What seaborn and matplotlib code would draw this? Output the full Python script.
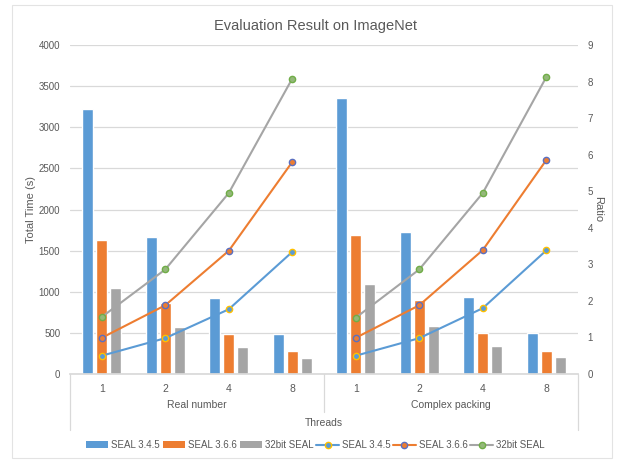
import pandas as pd
import matplotlib.pyplot as plt
import seaborn as sns
from matplotlib.lines import Line2D
from matplotlib.patches import Patch, Rectangle

# --- data ---
groups = ['Real number', 'Complex packing']
threads = ['1', '2', '4', '8']
versions = ['SEAL 3.4.5', 'SEAL 3.6.6', '32bit SEAL']

time_real_345 = [3220, 1670, 920, 486]
time_real_366 = [1625, 863, 482, 280]
time_real_32 = [1045, 567, 328, 199]
time_cplx_345 = [3352, 1730, 936, 498]
time_cplx_366 = [1694, 896, 495, 284]
time_cplx_32 = [1098, 587, 337, 207]

ratio_real_345 = [0.50, 0.98, 1.77, 3.34]
ratio_real_366 = [0.99, 1.88, 3.37, 5.80]
ratio_real_32 = [1.56, 2.86, 4.95, 8.08]
ratio_cplx_345 = [0.50, 0.98, 1.80, 3.38]
ratio_cplx_366 = [0.99, 1.88, 3.39, 5.85]
ratio_cplx_32 = [1.54, 2.86, 4.95, 8.12]

times = {('Real number', 'SEAL 3.4.5'): time_real_345, ('Real number', 'SEAL 3.6.6'): time_real_366,
         ('Real number', '32bit SEAL'): time_real_32, ('Complex packing', 'SEAL 3.4.5'): time_cplx_345,
         ('Complex packing', 'SEAL 3.6.6'): time_cplx_366, ('Complex packing', '32bit SEAL'): time_cplx_32}
ratios = {('Real number', 'SEAL 3.4.5'): ratio_real_345, ('Real number', 'SEAL 3.6.6'): ratio_real_366,
          ('Real number', '32bit SEAL'): ratio_real_32, ('Complex packing', 'SEAL 3.4.5'): ratio_cplx_345,
          ('Complex packing', 'SEAL 3.6.6'): ratio_cplx_366, ('Complex packing', '32bit SEAL'): ratio_cplx_32}

rows = []
for gi, g in enumerate(groups):
    for ti, t in enumerate(threads):
        for v in versions:
            rows.append({'pos': gi * len(threads) + ti, 'group': g, 'threads': t, 'version': v,
                         'time': times[(g, v)][ti], 'ratio': ratios[(g, v)][ti]})
df = pd.DataFrame(rows)

# --- style ---
sns.set_theme(style='white')
plt.rcParams['font.family'] = ['Liberation Sans', 'DejaVu Sans']
TXT = '#595959'
GRID = '#D9D9D9'
bar_colors = {'SEAL 3.4.5': '#5B9BD5', 'SEAL 3.6.6': '#ED7D31', '32bit SEAL': '#A5A5A5'}
line_colors = {'SEAL 3.4.5': '#5B9BD5', 'SEAL 3.6.6': '#ED7D31', '32bit SEAL': '#A5A5A5'}
mk_face = {'SEAL 3.4.5': '#5B9BD5', 'SEAL 3.6.6': '#ED7D31', '32bit SEAL': '#94B87A'}
mk_edge = {'SEAL 3.4.5': '#FFC000', 'SEAL 3.6.6': '#5B6FC0', '32bit SEAL': '#70AD47'}

fig = plt.figure(figsize=(6.25, 4.62), dpi=100)
fig.patches.append(Rectangle((12 / 625, 1 - 458 / 462), 600 / 625, 453 / 462, transform=fig.transFigure,
                             fill=False, edgecolor='#E3E3E3', linewidth=0.8))
ax = fig.add_axes([70 / 625, 1 - 374 / 462, 508 / 625, 329 / 462])

sns.barplot(data=df, x='pos', y='time', hue='version', hue_order=versions, palette=bar_colors,
            width=0.66, gap=0.21, saturation=1, ax=ax, legend=False)
ax.set_axisbelow(True)
ax.set_ylim(0, 4000)
ax.set_yticks(range(0, 4001, 500))
ax.yaxis.grid(True, color=GRID, linewidth=0.9)
ax.set_xlim(-0.5, 7.5)
ax.set_xticks(range(8))
ax.set_xticklabels(threads * 2)
for s in ['top', 'left', 'right']:
    ax.spines[s].set_visible(False)
ax.spines['bottom'].set_color(GRID)
ax.tick_params(axis='both', length=0, labelsize=7, labelcolor=TXT)
ax.tick_params(axis='x', pad=7, labelsize=7.5)
ax.tick_params(axis='y', pad=7)
ax.set_ylabel('Total Time (s)', fontsize=8, color=TXT, labelpad=2)
ax.set_xlabel('')

ax2 = ax.twinx()
for g in groups:
    for v in versions:
        sub = df[(df['group'] == g) & (df['version'] == v)]
        sns.lineplot(data=sub, x='pos', y='ratio', color=line_colors[v], linewidth=1.5, marker='o',
                     markersize=4.5, markerfacecolor=mk_face[v], markeredgecolor=mk_edge[v],
                     markeredgewidth=1, ax=ax2, legend=False)
ax2.set_ylim(0, 9)
ax2.set_yticks(range(10))
ax2.set_xlim(-0.5, 7.5)
for s in ['top', 'left', 'right', 'bottom']:
    ax2.spines[s].set_visible(False)
ax2.tick_params(axis='y', length=0, labelsize=7, labelcolor=TXT, pad=7)
ax2.set_ylabel('Ratio', fontsize=8, color=TXT, rotation=270, labelpad=7)
ax2.set_xlabel('')

# multi-level category axis
tr = ax.get_xaxis_transform()
for x, y1 in [(-0.5, -0.170), (3.5, -0.1155), (7.5, -0.170)]:
    ax.plot([x, x], [0, y1], color=GRID, linewidth=0.9, transform=tr, clip_on=False)
ax.text(1.5, -0.094, groups[0], transform=tr, ha='center', va='center', fontsize=7.5, color=TXT)
ax.text(5.5, -0.094, groups[1], transform=tr, ha='center', va='center', fontsize=7.5, color=TXT)
ax.text(3.5, -0.148, 'Threads', transform=tr, ha='center', va='center', fontsize=7.5, color=TXT)

fig.text(315 / 625, 1 - 26 / 462, 'Evaluation Result on ImageNet', ha='center', va='center',
         fontsize=10.5, color=TXT)

handles = [Patch(facecolor=bar_colors[v], edgecolor='none') for v in versions]
handles += [Line2D([], [], color=line_colors[v], linewidth=1.5, marker='o', markersize=4.5,
                   markerfacecolor=mk_face[v], markeredgecolor=mk_edge[v]) for v in versions]
leg = fig.legend(handles, versions * 2, loc='center', bbox_to_anchor=(315 / 625, 1 - 445 / 462), ncol=6,
                 frameon=False, fontsize=7, handlelength=2.3, handleheight=0.6, handletextpad=0.3,
                 columnspacing=0.3)
for t in leg.get_texts():
    t.set_color(TXT)

fig.savefig('out.png', dpi=100)
